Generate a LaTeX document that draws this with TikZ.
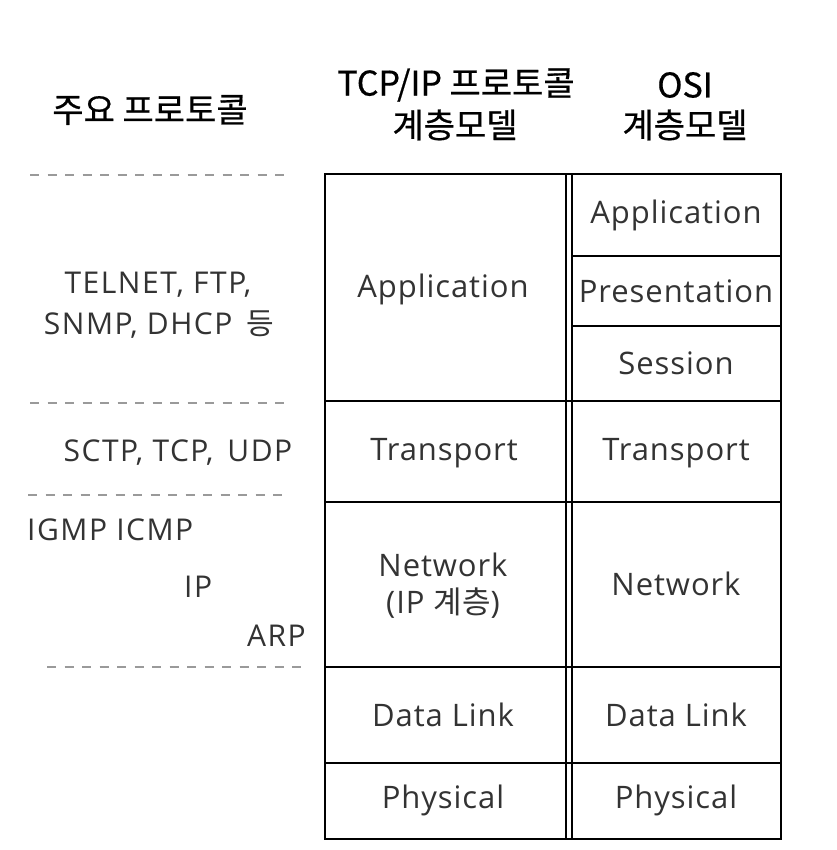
\documentclass[tikz,border=0pt]{standalone}
\usepackage{fontspec}
\setmainfont{Open Sans}
\newfontfamily\cellfont[LetterSpace=3]{Open Sans}
\newfontfamily\labfont[LetterSpace=5]{Open Sans}
\newfontfamily\kr{Noto Sans CJK KR}
\newfontfamily\hdrfont[FakeBold=0.6]{Noto Sans CJK KR}
\definecolor{txt}{HTML}{333333}
\definecolor{dashc}{HTML}{9A9A9A}
\begin{document}
\begin{tikzpicture}[x=1pt,y=-1pt,
  grid/.style={line width=2pt,black},
  sep/.style={line width=1.6pt,dashc,dash pattern=on 9pt off 8.5pt},
  hdr/.style={font=\hdrfont\fontsize{34}{38}\selectfont,text=black,inner sep=0pt,align=center},
  cell/.style={font=\cellfont\fontsize{31}{34}\selectfont,text=txt,inner sep=0pt,align=center},
  lab/.style={font=\labfont\fontsize{30}{33}\selectfont,text=txt,inner sep=0pt}]
\useasboundingbox (0,0) rectangle (836,850);
\fill[white] (0,0) rectangle (836,850);
% headers
\node[hdr] (h1) at (150,110) {주요 프로토콜};
\node[hdr] (h2a) at (456,85) {TCP/IP 프로토콜};
\node[hdr] (h2b) at (455,125) {계층모델};
\node[hdr] (h3a) at (685,85) {OSI};
\node[hdr] (h3b) at (685,125) {계층모델};
% grid
\draw[grid] (325,174) rectangle (781,839);
\draw[grid] (566,174) -- (566,839);
\draw[grid] (572,174) -- (572,839);
\draw[grid] (325,401) -- (781,401);
\draw[grid] (325,502) -- (781,502);
\draw[grid] (325,667) -- (781,667);
\draw[grid] (325,763) -- (781,763);
\draw[grid] (572,256) -- (781,256);
\draw[grid] (572,326) -- (781,326);
% dashed separators
\coordinate (d1a) at (30,175); \coordinate (d1b) at (290,175);
\coordinate (d2a) at (30,403); \coordinate (d2b) at (290,403);
\coordinate (d3a) at (28,495); \coordinate (d3b) at (290,495);
\coordinate (d4a) at (47,667); \coordinate (d4b) at (306,667);
\draw[sep] (d1a) -- (d1b);
\draw[sep] (d2a) -- (d2b);
\draw[sep] (d3a) -- (d3b);
\draw[sep] (d4a) -- (d4b);
% TCP/IP column
\node[cell] (tapp) at (443,289) {Application};
\node[cell] (ttra) at (444,453) {Transport};
\node[cell] (tnet) at (443,565) {Network};
\node[cell] (tnet2) at (443,603) {(IP {\kr 계층})};
\node[cell] (tdl) at (443,715) {Data Link};
\node[cell] (tph) at (443,800) {Physical};
% OSI column
\node[cell] (oapp) at (676,215) {Application};
\node[cell] (opre) at (676,291) {Presentation};
\node[cell] (oses) at (676,363) {Session};
\node[cell] (otra) at (676,453) {Transport};
\node[cell] (onet) at (676,584) {Network};
\node[cell] (odl) at (676,715) {Data Link};
\node[cell] (oph) at (676,800) {Physical};
% protocols
\node[lab] (p1) at (158,285) {TELNET, FTP,};
\node[lab] (p2) at (159,325) {SNMP, DHCP\hspace{14pt}{\kr 등}};
\node[lab] (p3) at (178,453) {SCTP, TCP,\hspace{14pt}UDP};
\node[lab,anchor=west] (p4) at (27,530) {IGMP ICMP};
\node[lab,anchor=west] (p5) at (184,587) {IP};
\node[lab,anchor=east] (p6) at (306,636) {ARP};
\end{tikzpicture}
\end{document}
